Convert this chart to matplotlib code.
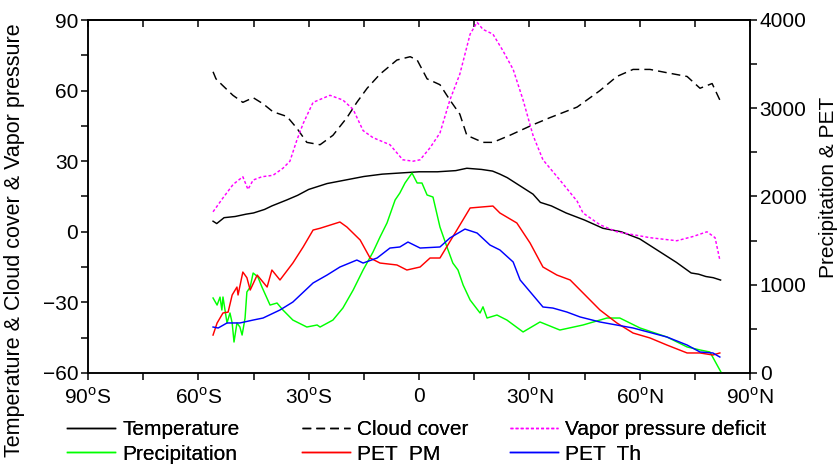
import matplotlib
matplotlib.use("Agg")
import matplotlib.pyplot as plt
from matplotlib.ticker import MultipleLocator

plt.rcParams["font.family"] = ["Liberation Sans", "DejaVu Sans"]
plt.rcParams["mathtext.fontset"] = "custom"
plt.rcParams["mathtext.rm"] = "Liberation Sans"

# left axis series (degC, %, hPa)
temp_lat = [-56, -55, -53, -50, -47, -45, -42, -40, -36, -33, -30, -25, -20, -15,
            -10, -5, 0, 5, 10, 13, 17, 20, 22, 24, 26, 29, 31, 33, 36, 40, 45,
            50, 55, 60, 65, 70, 74, 76, 78, 80, 82]
temp_val = [4.5, 3.5, 6, 6.5, 7.5, 8, 9.5, 11, 13.5, 15.5, 18, 20.5, 22, 23.5,
            24.5, 25, 25.5, 25.5, 26, 27, 26.5, 25.8, 24.5, 23, 21, 18, 16, 12.5,
            11, 8, 5, 1.5, 0, -3, -8, -13, -17.5, -18, -19, -19.5, -20.5]

cloud_lat = [-56.0, -55.2, -53.6, -50.6, -47.9, -45.1, -42.4, -39.7, -35.9, -33.2,
             -30.5, -26.9, -23.4, -19.6, -16.9, -14.1, -10.6, -6.0, -2.4, -0.5,
             2.2, 5.7, 8.4, 11.1, 13.0, 17.4, 20.1, 24.7, 31.0, 35.6, 43.0, 49.2,
             53.8, 58.2, 62.8, 67.4, 72.9, 76.4, 79.7, 81.8]
cloud_val = [68, 65, 62.5, 58, 55, 57, 54.4, 51, 49, 44, 38, 37, 41, 48.5, 55,
             61, 67, 73, 74.4, 73, 65, 62.5, 56, 50, 41, 38, 38, 41, 45.5, 48.5,
             53, 60, 66, 69, 69, 67.6, 66, 61, 63, 56]

vpd_lat = [-56.0, -53.3, -50.6, -50.0, -47.9, -46.5, -45.1, -42.7, -39.7, -37.0,
           -35.1, -33.2, -31.5, -28.8, -24.2, -20.7, -17.9, -15.2, -12.5, -7.9,
           -4.4, -1.6, 0.3, 3.0, 5.7, 8.4, 11.1, 13.9, 15.8, 17.4, 20.1, 22.8,
           25.6, 28.3, 31.0, 33.7, 38.3, 43.0, 44.6, 49.2, 53.8, 62.8, 70.1,
           74.5, 78.3, 80.5, 81.8]
vpd_val = [8.5, 14.4, 20, 20.8, 23.4, 18, 22, 23.4, 24, 27, 30, 39, 46, 55, 58,
           56, 52, 43, 40, 37, 30.6, 30, 30.6, 35.7, 42, 56, 67, 84, 89, 86, 84,
           77, 69, 56, 41, 30.6, 22, 13, 8, 3, 0, -2.5, -3.8, -2, 0, -2.5, -12]

# right axis series (mm)
prec_lat = [-56.0, -54.9, -54.1, -53.6, -53.3, -52.2, -51.4, -50.8, -50.3, -49.5,
            -48.7, -48.1, -47.3, -46.8, -45.9, -45.1, -43.8, -42.7, -40.5, -38.6,
            -37.0, -34.3, -30.5, -27.7, -26.9, -23.4, -20.7, -17.9, -15.2, -12.5,
            -10.6, -8.7, -6.5, -5.2, -3.8, -1.9, -0.5, 0.8, 2.2, 3.8, 5.7, 7.6,
            9.2, 10.6, 12.0, 13.9, 16.6, 17.4, 18.5, 21.2, 23.9, 28.3, 32.9, 38.3,
            44.6, 51.1, 54.6, 60.1, 67.4, 72.9, 76.4, 79.1, 82.1]
prec_val = [850, 770, 860, 714, 861, 567, 680, 567, 351, 567, 521, 430, 620, 918,
            974, 1133, 1088, 974, 770, 793, 714, 600, 521, 544, 521, 600, 736, 940,
            1167, 1371, 1541, 1700, 1960, 2040, 2153, 2266, 2153, 2153, 2017, 1994,
            1654, 1428, 1246, 1167, 997, 827, 680, 750, 623, 657, 600, 465, 578, 487,
            544, 623, 623, 510, 408, 295, 261, 238, 11]

petpm_lat = [-56.0, -54.9, -53.3, -51.9, -50.8, -49.5, -49.2, -47.9, -46.8, -45.9,
             -44.0, -41.3, -40.0, -37.8, -34.3, -31.5, -28.8, -26.9, -21.5, -19.6,
             -16.0, -13.3, -10.6, -6.0, -3.3, 0.3, 3.0, 5.7, 10.3, 13.9, 20.1, 22.0,
             26.6, 30.2, 33.7, 37.5, 41.1, 45.7, 49.2, 53.8, 58.2, 62.8, 67.4, 72.9,
             76.4, 79.9, 81.8]
petpm_val = [430, 566, 680, 690, 884, 974, 884, 1144, 1080, 940, 1110, 974, 1167,
             1054, 1246, 1428, 1620, 1640, 1711, 1654, 1507, 1303, 1246, 1224, 1167,
             1201, 1303, 1303, 1620, 1870, 1892, 1813, 1700, 1473, 1201, 1110, 1054,
             861, 714, 567, 453, 397, 317, 227, 227, 204, 227]

petth_lat = [-56.0, -54.6, -52.2, -48.7, -45.1, -42.4, -37.8, -34.3, -28.8, -25.0,
             -21.5, -16.9, -15.2, -11.4, -7.9, -5.2, -3.0, 0.3, 5.7, 8.4, 12.5,
             15.8, 19.3, 22.0, 25.6, 27.5, 32.1, 33.7, 36.4, 40.2, 43.8, 49.2, 58.2,
             67.4, 72.9, 76.4, 79.9, 81.8]
petth_val = [521, 510, 567, 567, 600, 623, 714, 804, 1020, 1110, 1201, 1280, 1246,
             1303, 1416, 1428, 1484, 1416, 1428, 1530, 1631, 1586, 1450, 1394, 1258,
             1054, 827, 748, 736, 691, 635, 578, 510, 408, 317, 238, 227, 181]

xticks = [-90, -60, -30, 0, 30, 60, 90]
xlabels = [r"90$^\mathregular{o}$S", r"60$^\mathregular{o}$S", r"30$^\mathregular{o}$S",
           "0", r"30$^\mathregular{o}$N", r"60$^\mathregular{o}$N", r"90$^\mathregular{o}$N"]

FS = 15


def main():
    fig = plt.figure(figsize=(8.4, 4.67), dpi=100)
    ax = fig.add_axes([88 / 840, 94 / 467, 662 / 840, 353 / 467])
    ax2 = ax.twinx()

    lw = 1.05
    h_temp, = ax.plot(temp_lat, temp_val, color="black", lw=lw, label="Temperature")
    h_cloud, = ax.plot(cloud_lat, cloud_val, color="black", lw=lw,
                       dashes=(6, 3.5), label="Cloud cover")
    h_vpd, = ax.plot(vpd_lat, vpd_val, color="#ff00ff", lw=lw,
                     dashes=(2, 1.5), label="Vapor pressure deficit")
    h_prec, = ax2.plot(prec_lat, prec_val, color="#00ff00", lw=lw, label="Precipitation")
    h_pm, = ax2.plot(petpm_lat, petpm_val, color="red", lw=lw, label="PET  PM")
    h_th, = ax2.plot(petth_lat, petth_val, color="blue", lw=lw, label="PET  Th")

    ax.set_xlim(-90, 90)
    ax.set_ylim(-60, 90)
    ax2.set_ylim(0, 4000)

    ax.set_xticks(xticks)
    ax.set_xticklabels(xlabels)
    ax.xaxis.set_minor_locator(MultipleLocator(15))
    ax.set_yticks([-60, -30, 0, 30, 60, 90])
    ax.yaxis.set_minor_locator(MultipleLocator(15))
    ax2.set_yticks([0, 1000, 2000, 3000, 4000])
    ax2.yaxis.set_minor_locator(MultipleLocator(500))

    for a in (ax, ax2):
        for s in a.spines.values():
            s.set_linewidth(1.1)
    ax.tick_params(axis="both", which="both", direction="out", length=5, width=1.1,
                   labelsize=FS, pad=2)
    ax.tick_params(axis="x", pad=5)
    ax2.tick_params(axis="y", which="both", direction="out", length=5, width=1.1,
                    labelsize=FS, pad=2)

    top = ax.secondary_xaxis("top")
    top.set_xticks(xticks)
    top.xaxis.set_minor_locator(MultipleLocator(15))
    top.tick_params(axis="x", which="both", direction="in", length=5, width=1.1,
                    labeltop=False)
    top.spines["top"].set_linewidth(1.1)

    fig.text(15 / 840, 1 - 240 / 467, "Temperature & Cloud cover & Vapor pressure",
             rotation=90, ha="center", va="center", fontsize=15.5)
    fig.text(829 / 840, 1 - 187 / 467, "Precipitation & PET",
             rotation=90, ha="center", va="center", fontsize=15)

    groups = [((h_temp, h_prec), 67), ((h_cloud, h_pm), 302), ((h_vpd, h_th), 510)]
    for hs, xpx in groups:
        leg = fig.legend(handles=list(hs), loc="upper left",
                         bbox_to_anchor=(xpx / 840, 1 - 420 / 467),
                         frameon=False, fontsize=15, handlelength=2.3,
                         handletextpad=0.35, borderpad=0, borderaxespad=0,
                         labelspacing=0.27)
        fig.add_artist(leg)

    fig.savefig("out.png", dpi=100)
    plt.close(fig)


if __name__ == "__main__":
    main()
